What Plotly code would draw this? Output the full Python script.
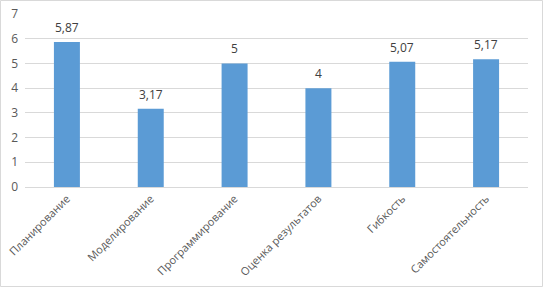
import plotly.graph_objects as go

categories = ["Планирование", "Моделирование", "Программирование", "Оценка результатов", "Гибкость", "Самостоятельность"]
values = [5.87, 3.17, 5, 4, 5.07, 5.17]
labels = [str(v).replace(".", ",") for v in values]

W, H = 543, 287
L, R, T, B = 25, 15, 14, 100
pw, ph = W - L - R, H - T - B
FONT = "Open Sans, Liberation Sans, sans-serif"

fig = go.Figure(go.Bar(
    x=categories, y=values,
    marker=dict(color="#5b9bd5", line=dict(width=0)),
))
for c, v, t in zip(categories, values, labels):
    fig.add_annotation(x=c, y=v, text=t, showarrow=False, yanchor="bottom", yshift=4,
                       font=dict(family=FONT, size=12, color="#404040"))
fig.update_layout(
    width=W, height=H,
    margin=dict(l=L, r=R, t=T, b=B, autoexpand=False),
    paper_bgcolor="white", plot_bgcolor="white",
    bargap=0.69,
    showlegend=False,
    font=dict(family=FONT, size=11, color="#595959"),
    xaxis=dict(tickangle=-45, showgrid=False, showline=True, linecolor="#d9d9d9",
               ticks="", automargin=False, tickfont=dict(size=11, color="#595959")),
    yaxis=dict(range=[0, 7], dtick=1, showgrid=True, gridcolor="#d9d9d9", zeroline=False,
               showline=False, ticks="", automargin=False, tickfont=dict(size=12, color="#595959"),
               ticklabelstandoff=6),
    shapes=[dict(type="rect", xref="paper", yref="paper",
                 x0=(-L + 0.5) / pw, x1=(pw + R - 0.5) / pw,
                 y0=(-B + 0.5) / ph, y1=(ph + T - 0.5) / ph,
                 line=dict(color="#d9d9d9", width=1), layer="below")],
)
fig.write_html("out.html", config={"displayModeBar": False},
               post_script="document.body.style.margin='0';document.body.style.overflow='hidden';")
